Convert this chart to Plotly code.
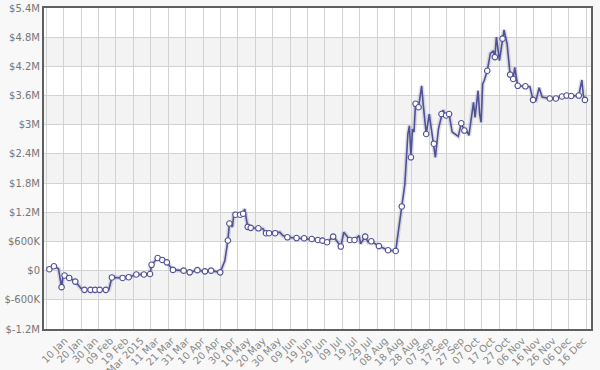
import plotly.graph_objects as go

# ---- data ----
dates = [
    "2014-12-31", "2015-01-03", "2015-01-06", "2015-01-08", "2015-01-09", "2015-01-10",
    "2015-01-13", "2015-01-17", "2015-01-21", "2015-01-23", "2015-01-27", "2015-01-30",
    "2015-02-02", "2015-02-06", "2015-02-08", "2015-02-10", "2015-02-17", "2015-02-21",
    "2015-02-26", "2015-03-03", "2015-03-07", "2015-03-08", "2015-03-12", "2015-03-15",
    "2015-03-18", "2015-03-22", "2015-03-29", "2015-04-02", "2015-04-07", "2015-04-12",
    "2015-04-16", "2015-04-22", "2015-04-25", "2015-04-27", "2015-04-28", "2015-04-30",
    "2015-05-01", "2015-05-02", "2015-05-05", "2015-05-07", "2015-05-08", "2015-05-10",
    "2015-05-12", "2015-05-17", "2015-05-20", "2015-05-22", "2015-05-24", "2015-05-28",
    "2015-05-31", "2015-06-02", "2015-06-05", "2015-06-11", "2015-06-16", "2015-06-21",
    "2015-06-25", "2015-06-28", "2015-07-01", "2015-07-05", "2015-07-06", "2015-07-10",
    "2015-07-12", "2015-07-16", "2015-07-19", "2015-07-22", "2015-07-23", "2015-07-26",
    "2015-07-28", "2015-07-30", "2015-08-04", "2015-08-10", "2015-08-15", "2015-08-19",
    "2015-08-21", "2015-08-23", "2015-08-24", "2015-08-25", "2015-08-26", "2015-08-27",
    "2015-08-28", "2015-08-30", "2015-09-01", "2015-09-02", "2015-09-04", "2015-09-06",
    "2015-09-07", "2015-09-09", "2015-09-10", "2015-09-12", "2015-09-14", "2015-09-15",
    "2015-09-17", "2015-09-19", "2015-09-21", "2015-09-24", "2015-09-25", "2015-09-27",
    "2015-09-29", "2015-09-30", "2015-10-02", "2015-10-05", "2015-10-06", "2015-10-08",
    "2015-10-09", "2015-10-10", "2015-10-11", "2015-10-12", "2015-10-14", "2015-10-16",
    "2015-10-18", "2015-10-19", "2015-10-20", "2015-10-22", "2015-10-24", "2015-10-25",
    "2015-10-27", "2015-10-29", "2015-10-31", "2015-11-01", "2015-11-03", "2015-11-08",
    "2015-11-11", "2015-11-13", "2015-11-15", "2015-11-17", "2015-11-19", "2015-11-24",
    "2015-11-28", "2015-12-02", "2015-12-05", "2015-12-08", "2015-12-13", "2015-12-15",
    "2015-12-16", "2015-12-17",
]
values = [
    30e3, 90e3, 40e3, -340e3, -100e3, -100e3,
    -150e3, -225e3, -375e3, -395e3, -395e3, -395e3,
    -395e3, -395e3, -390e3, -140e3, -150e3, -135e3,
    -80e3, -80e3, -70e3, 120e3, 260e3, 220e3,
    170e3, 15e3, 0, -35e3, 10e3, -15e3,
    0, -35e3, 200e3, 620e3, 970e3, 900e3,
    1.20e6, 1.15e6, 1.15e6, 1.17e6, 1.27e6, 900e3,
    880e3, 870e3, 860e3, 770e3, 770e3, 770e3,
    790e3, 720e3, 685e3, 670e3, 665e3, 650e3,
    630e3, 617e3, 583e3, 700e3, 670e3, 495e3,
    790e3, 630e3, 630e3, 720e3, 550e3, 700e3,
    583e3, 603e3, 505e3, 420e3, 405e3, 1.32e6,
    1.78e6, 2.81e6, 2.98e6, 2.33e6, 2.91e6, 2.85e6,
    3.43e6, 3.36e6, 3.80e6, 3.43e6, 2.81e6, 3.22e6,
    3.02e6, 2.61e6, 2.33e6, 2.91e6, 3.22e6, 3.30e6,
    3.19e6, 3.22e6, 2.85e6, 2.78e6, 2.76e6, 3.03e6,
    2.88e6, 2.91e6, 2.78e6, 3.46e6, 3.15e6, 3.70e6,
    3.22e6, 3.05e6, 3.84e6, 3.91e6, 4.11e6, 4.46e6,
    4.52e6, 4.39e6, 4.80e6, 4.32e6, 4.77e6, 4.95e6,
    4.66e6, 4.03e6, 3.94e6, 4.18e6, 3.80e6, 3.79e6,
    3.78e6, 3.51e6, 3.50e6, 3.76e6, 3.57e6, 3.54e6,
    3.54e6, 3.58e6, 3.60e6, 3.59e6, 3.60e6, 3.92e6,
    3.60e6, 3.51e6,
]
# 1 = point drawn with a round bullet
bullets = [
    1, 1, 0, 1, 0, 1,
    1, 1, 0, 1, 1, 1,
    1, 1, 0, 1, 1, 1,
    1, 1, 1, 1, 1, 1,
    1, 1, 1, 1, 1, 1,
    1, 1, 0, 1, 1, 0,
    0, 1, 1, 1, 0, 1,
    1, 1, 0, 1, 1, 1,
    0, 0, 1, 1, 1, 1,
    1, 1, 1, 1, 0, 1,
    0, 1, 1, 0, 0, 1,
    0, 1, 1, 1, 1, 1,
    0, 0, 0, 1, 0, 0,
    1, 1, 0, 0, 1, 0,
    0, 1, 0, 0, 1, 0,
    1, 1, 0, 0, 0, 1,
    1, 0, 0, 0, 0, 0,
    0, 0, 0, 0, 1, 0,
    0, 1, 0, 0, 1, 0,
    0, 1, 1, 0, 1, 1,
    0, 1, 0, 0, 0, 1,
    1, 1, 1, 1, 1, 0,
    0, 1,
]

y_ticks = [5.4e6, 4.8e6, 4.2e6, 3.6e6, 3.0e6, 2.4e6, 1.8e6, 1.2e6, 600e3, 0, -600e3, -1.2e6]
y_labels = ["$5.4M", "$4.8M", "$4.2M", "$3.6M", "$3M", "$2.4M", "$1.8M", "$1.2M",
            "$600K", "$0", "$-600K", "$-1.2M"]

x_ticks = ["2015-01-10", "2015-01-20", "2015-01-30", "2015-02-09", "2015-02-19", "2015-03-01",
           "2015-03-11", "2015-03-21", "2015-03-31", "2015-04-10", "2015-04-20", "2015-04-30",
           "2015-05-10", "2015-05-20", "2015-05-30", "2015-06-09", "2015-06-19", "2015-06-29",
           "2015-07-09", "2015-07-19", "2015-07-29", "2015-08-08", "2015-08-18", "2015-08-28",
           "2015-09-07", "2015-09-17", "2015-09-27", "2015-10-07", "2015-10-17", "2015-10-27",
           "2015-11-06", "2015-11-16", "2015-11-26", "2015-12-06", "2015-12-16"]
x_labels = ["10 Jan", "20 Jan", "30 Jan", "09 Feb", "19 Feb", "Mar 2015",
            "11 Mar", "21 Mar", "31 Mar", "10 Apr", "20 Apr", "30 Apr",
            "10 May", "20 May", "30 May", "09 Jun", "19 Jun", "29 Jun",
            "09 Jul", "19 Jul", "29 Jul", "08 Aug", "18 Aug", "28 Aug",
            "07 Sep", "17 Sep", "27 Sep", "07 Oct", "17 Oct", "27 Oct",
            "06 Nov", "16 Nov", "26 Nov", "06 Dec", "16 Dec"]

LINE = "#4f5199"
FONT = "DejaVu Sans"

fig = go.Figure()

# invisible helper so the vertical-grid axis is drawn
fig.add_trace(go.Scatter(x=[0, 1], y=[0, 0], xaxis="x2", mode="none",
                         hoverinfo="skip", showlegend=False))

# soft shadow under the line
fig.add_trace(go.Scatter(x=dates, y=values, mode="lines",
                         line=dict(color="rgba(60,60,90,0.16)", width=4.5),
                         hoverinfo="skip", showlegend=False))
fig.add_trace(go.Scatter(x=dates, y=values, mode="lines",
                         line=dict(color=LINE, width=1.6),
                         showlegend=False))
bx = [d for d, b in zip(dates, bullets) if b]
by = [v for v, b in zip(values, bullets) if b]
fig.add_trace(go.Scatter(x=bx, y=by, mode="markers",
                         marker=dict(size=5.5, color="white",
                                     line=dict(color=LINE, width=1.1)),
                         showlegend=False))

# alternating horizontal bands
shapes = []
for i in range(len(y_ticks) - 1):
    if i % 2 == 1:
        shapes.append(dict(type="rect", xref="paper", yref="y", layer="below",
                           x0=0, x1=1, y0=y_ticks[i + 1], y1=y_ticks[i],
                           fillcolor="#f3f3f3", line=dict(width=0)))

fig.update_layout(
    width=600, height=370,
    margin=dict(l=44, r=9, t=8, b=41),
    paper_bgcolor="#f8f8f8",
    plot_bgcolor="white",
    shapes=shapes,
    font=dict(family=FONT, size=10, color="#777777"),
    xaxis=dict(
        type="date", automargin=False,
        range=["2014-12-27 12:00", "2015-12-21"],
        tickvals=x_ticks, ticktext=x_labels, tickangle=-45,
        showgrid=False, zeroline=False,
        showline=True, linecolor="#5f5f5f", linewidth=2, mirror=True,
        ticks="", tickfont=dict(size=10, color="#888888"),
    ),
    xaxis2=dict(
        overlaying="x", range=[0, 1], tick0=0.0361, dtick=0.03183,
        showgrid=True, gridcolor="#d2d2d2", gridwidth=1, automargin=False,
        showticklabels=False, zeroline=False, showline=False, ticks="",
    ),
    yaxis=dict(
        range=[-1.2e6, 5.4e6], tickvals=y_ticks, ticktext=y_labels, automargin=False,
        showgrid=True, gridcolor="#d2d2d2", gridwidth=1, zeroline=False,
        showline=True, linecolor="#5f5f5f", linewidth=2, mirror=True,
        ticks="", tickfont=dict(size=10, color="#777777"),
    ),
)

fig.write_html("out.html")
